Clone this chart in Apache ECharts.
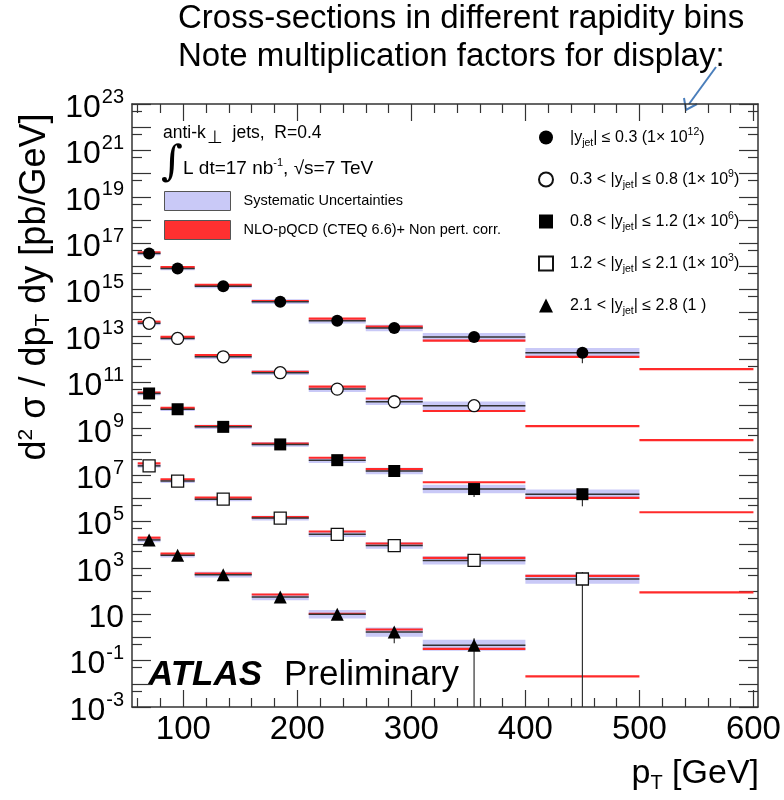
<!DOCTYPE html>
<html>
<head>
<meta charset="utf-8">
<script src="https://cdn.jsdelivr.net/npm/echarts@6/dist/echarts.min.js"></script>
<style>
* { margin: 0; padding: 0; }
body { background: #fff; }
#chart { width: 784px; height: 800px; }
</style>
</head>
<body>
<div id="chart"></div>
<script>
// pT bin edges [GeV]
var binEdges = [60, 80, 110, 160, 210, 260, 310, 400, 500, 600];

// rapidity bins and display factors
var yLow = [null, 0.3, 0.8, 1.2, 2.1];
var yHigh = [0.3, 0.8, 1.2, 2.1, 2.8];
var factorExp = [12, 9, 6, 3, 0];

// measured d2sigma/dpTdy [pb/GeV], before display factor (null = no point)
var meas0 = [3.6e4, 8.1e3, 1.4e3, 3.0e2, 45, 22, 8.9, 1.9, null];
var meas1 = [3.5e4, 7.8e3, 1.26e3, 2.6e2, 51, 14.5, 9.8, null, null];
var meas2 = [3.3e4, 6.9e3, 1.2e3, 2.1e2, 44, 15, 2.5, 1.5, null];
var meas3 = [2.5e4, 5.5e3, 9.1e2, 1.4e2, 28, 9.1, 2.1, 0.33, null];
var meas4 = [1.6e4, 3.5e3, 5.1e2, 56, 10, 1.7, 0.46, null, null];

// NLO-pQCD x non pert. corr.
var nlo0 = [4.0e4, 9.3e3, 1.6e3, 3.2e2, 56, 25, 6.3, 1.26, 0.37];
var nlo1 = [4.1e4, 9.1e3, 1.5e3, 2.8e2, 65, 20, 5.8, 1.3, 0.32];
var nlo2 = [3.6e4, 7.9e3, 1.3e3, 2.3e2, 56, 18, 4.9, 1.05, 0.25];
var nlo3 = [3.2e4, 6.5e3, 1.07e3, 1.55e2, 37, 11.2, 2.7, 0.45, 0.087];
var nlo4 = [2.0e4, 4.1e3, 5.6e2, 71, 10.5, 2.2, 0.32, 0.021, null];

// relative statistical error
var stat0 = [0, 0, 0, 0, 0, 0, 0.1, 0.65];
var stat1 = [0, 0, 0, 0, 0, 0, 0.1, 0];
var stat2 = [0, 0, 0, 0, 0, 0, 0.55, 0.7];
var stat3 = [0, 0, 0, 0, 0, 0, 0.1, 1.0];
var stat4 = [0, 0, 0, 0, 0, 0.67, 1.0];

// systematic band half width (decades)
var sysCentral = [0.08, 0.08, 0.09, 0.1, 0.12, 0.14, 0.18, 0.2];
var sysForward = [0.1, 0.1, 0.12, 0.14, 0.18, 0.2, 0.24];

// axis ticks
var xMajor = [100, 200, 300, 400, 500, 600];
var xMinor = [60, 80, 120, 140, 160, 180, 220, 240, 260, 280, 320, 340, 360, 380,
              420, 440, 460, 480, 520, 540, 560, 580];
var yLabelExp = [-3, -1, 1, 3, 5, 7, 9, 11, 13, 15, 17, 19, 21, 23];

var meas = [meas0, meas1, meas2, meas3, meas4];
var nlo = [nlo0, nlo1, nlo2, nlo3, nlo4];
var stat = [stat0, stat1, stat2, stat3, stat4];
var sys = [sysCentral, sysCentral, sysCentral, sysCentral, sysForward];
var symbols = ['circle', 'circle', 'rect', 'rect', 'triangle'];
var filled = [true, false, true, false, true];
var symSize = [12, 12, 12, 12, 13];

// a hair above 1e23 so the top tick/label survive rounding
var Y_MIN = 1e-3, Y_MAX = 1.001e23;
var FONT = 'Liberation Sans, Arial, sans-serif';

// exact powers of ten (Math.pow(10, 23) is not exactly 1e23)
function p10(e) { return Number('1e' + e); }

var decadeTicks = [], halfTicks = [], yLabelVals = [];
for (var e = -3; e <= 23; e++) {
  decadeTicks.push(p10(e));
  if (e < 23) halfTicks.push(Number('5e' + e));
}
yLabelExp.forEach(function (e) { yLabelVals.push(p10(e)); });

var centers = [];
for (var i = 0; i + 1 < binEdges.length; i++) centers.push((binEdges[i] + binEdges[i + 1]) / 2);

var bandData = [], nloData = [], lineData = [];
var markerSeries = [];
var names = [];
for (var k = 0; k < 5; k++) {
  var f = p10(factorExp[k]);
  var pts = [];
  names.push('ybin' + k);
  for (var b = 0; b < centers.length; b++) {
    var x0 = binEdges[b], x1 = binEdges[b + 1];
    if (nlo[k][b] != null) nloData.push([x0, x1, nlo[k][b] * f]);
    var v = meas[k][b];
    if (v == null) continue;
    var s = sys[k][b];
    bandData.push([x0, x1, v * f * Math.pow(10, -s), v * f * Math.pow(10, s)]);
    var er = stat[k][b] || 0;
    var lo = Math.max(v * (1 - er) * f, Y_MIN);
    lineData.push([x0, x1, v * f, lo, v * (1 + er) * f, centers[b]]);
    pts.push([centers[b], v * f]);
  }
  markerSeries.push({
    name: names[k],
    type: 'scatter',
    symbol: symbols[k],
    symbolSize: symSize[k],
    z: 5,
    itemStyle: filled[k] ? { color: '#000', opacity: 1 } : { color: '#fff', borderColor: '#111', borderWidth: 1.3, opacity: 1 },
    data: pts
  });
}

function legendText(name) {
  var k = names.indexOf(name);
  var t = (yLow[k] != null ? yLow[k].toFixed(1) + ' < ' : '') + '|y{sub|jet}| \u2264 ' + yHigh[k].toFixed(1) + ' (';
  t += factorExp[k] === 0 ? '1 )' : '1\u00d7 10{sup|' + factorExp[k] + '})';
  return t;
}

var SYS_NAME = 'Systematic Uncertainties';
var NLO_NAME = 'NLO-pQCD (CTEQ 6.6)+ Non pert. corr.';

var chart = echarts.init(document.getElementById('chart'));
chart.setOption({
  animation: false,
  backgroundColor: '#fff',
  grid: { left: 132, right: 26, top: 104, bottom: 93, outerBoundsMode: 'none' },
  legend: [{
    orient: 'vertical', left: 538, top: 127, padding: 0, itemWidth: 14, itemHeight: 14, itemGap: 20,
    data: names, formatter: legendText, selectedMode: false,
    textStyle: {
      fontFamily: FONT, fontSize: 16, color: '#000', lineHeight: 21, padding: [0, 0, 0, 12],
      rich: {
        sub: { fontFamily: FONT, fontSize: 10.5, padding: [12, 0, 0, 0] },
        sup: { fontFamily: FONT, fontSize: 10.5, padding: [0, 0, 10, 0] }
      }
    }
  }, {
    orient: 'vertical', left: 164, top: 191, padding: 0, itemWidth: 66, itemHeight: 19, itemGap: 9,
    selectedMode: false,
    data: [
      { name: SYS_NAME, icon: 'rect', itemStyle: { color: '#c9c9f7', borderColor: '#555', borderWidth: 1 } },
      { name: NLO_NAME, icon: 'rect', itemStyle: { color: '#ff3030', borderColor: '#555', borderWidth: 1 } }
    ],
    textStyle: { fontFamily: FONT, fontSize: 14.5, color: '#000', padding: [0, 0, 0, 8] }
  }],
  xAxis: [{
    type: 'value', min: 55, max: 604, position: 'bottom',
    axisLine: { lineStyle: { color: '#333', width: 1.5 } },
    axisTick: { inside: true, length: 17, customValues: xMajor, lineStyle: { color: '#333', width: 1.2 } },
    axisLabel: { customValues: xMajor, fontSize: 33, fontFamily: FONT, color: '#000', margin: 6 },
    splitLine: { show: false }
  }, {
    type: 'value', min: 55, max: 604, position: 'bottom',
    axisLine: { show: false },
    axisTick: { inside: true, length: 9, customValues: xMinor, lineStyle: { color: '#333', width: 1.2 } },
    axisLabel: { show: false }, splitLine: { show: false }
  }, {
    type: 'value', min: 55, max: 604, position: 'top',
    axisLine: { lineStyle: { color: '#333', width: 1.5 } },
    axisTick: { inside: true, length: 17, customValues: xMajor, lineStyle: { color: '#333', width: 1.2 } },
    axisLabel: { show: false }, splitLine: { show: false }
  }, {
    type: 'value', min: 55, max: 604, position: 'top',
    axisLine: { show: false },
    axisTick: { inside: true, length: 9, customValues: xMinor, lineStyle: { color: '#333', width: 1.2 } },
    axisLabel: { show: false }, splitLine: { show: false }
  }],
  yAxis: [{
    type: 'log', min: Y_MIN, max: Y_MAX, position: 'left',
    axisLine: { lineStyle: { color: '#333', width: 1.5 } },
    axisTick: { inside: true, length: 19, customValues: decadeTicks, lineStyle: { color: '#333', width: 1.2 } },
    axisLabel: {
      customValues: yLabelVals, margin: 8, color: '#000', fontFamily: FONT,
      formatter: function (v) {
        var e = Math.round(Math.log10(v));
        return e === 1 ? '{b|10}' : '{b|10}{s|' + e + '}';
      },
      rich: {
        b: { fontSize: 32, fontFamily: FONT, color: '#000', padding: [8, 0, 0, 0] },
        s: { fontSize: 20, fontFamily: FONT, color: '#000', verticalAlign: 'top', padding: [3, 0, 0, 1] }
      }
    },
    splitLine: { show: false }
  }, {
    type: 'log', min: Y_MIN, max: Y_MAX, position: 'left',
    axisLine: { show: false },
    axisTick: { inside: true, length: 10, customValues: halfTicks, lineStyle: { color: '#333', width: 1.2 } },
    axisLabel: { show: false }, splitLine: { show: false }
  }, {
    type: 'log', min: Y_MIN, max: Y_MAX, position: 'right',
    axisLine: { lineStyle: { color: '#333', width: 1.5 } },
    axisTick: { inside: true, length: 19, customValues: decadeTicks, lineStyle: { color: '#333', width: 1.2 } },
    axisLabel: { show: false }, splitLine: { show: false }
  }, {
    type: 'log', min: Y_MIN, max: Y_MAX, position: 'right',
    axisLine: { show: false },
    axisTick: { inside: true, length: 10, customValues: halfTicks, lineStyle: { color: '#333', width: 1.2 } },
    axisLabel: { show: false }, splitLine: { show: false }
  }],
  series: [{
    name: SYS_NAME,
    type: 'custom', z: 1, silent: true,
    itemStyle: { color: '#c9c9f7' },
    encode: { x: [0, 1], y: [2, 3] },
    data: bandData,
    renderItem: function (params, api) {
      var p0 = api.coord([api.value(0), api.value(3)]);
      var p1 = api.coord([api.value(1), api.value(2)]);
      return { type: 'rect', shape: { x: p0[0], y: p0[1], width: p1[0] - p0[0], height: p1[1] - p0[1] },
               style: { fill: '#c9c9f7' } };
    }
  }, {
    name: NLO_NAME,
    type: 'custom', z: 2, silent: true,
    itemStyle: { color: '#ff3030' },
    encode: { x: [0, 1], y: 2 },
    data: nloData,
    renderItem: function (params, api) {
      var p0 = api.coord([api.value(0), api.value(2)]);
      var p1 = api.coord([api.value(1), api.value(2)]);
      return { type: 'line', shape: { x1: p0[0], y1: p0[1], x2: p1[0], y2: p1[1] },
               style: { stroke: '#ff2a2a', lineWidth: 2.2 } };
    }
  }, {
    name: 'data',
    type: 'custom', z: 3, silent: true,
    encode: { x: [0, 1], y: [2, 3, 4] },
    data: lineData,
    renderItem: function (params, api) {
      var p0 = api.coord([api.value(0), api.value(2)]);
      var p1 = api.coord([api.value(1), api.value(2)]);
      var lo = api.coord([api.value(5), api.value(3)]);
      var hi = api.coord([api.value(5), api.value(4)]);
      return { type: 'group', children: [
        { type: 'line', shape: { x1: p0[0], y1: p0[1], x2: p1[0], y2: p1[1] }, style: { stroke: '#333', lineWidth: 1.5 } },
        { type: 'line', shape: { x1: lo[0], y1: lo[1], x2: hi[0], y2: hi[1] }, style: { stroke: '#333', lineWidth: 1.2 } }
      ] };
    }
  }].concat(markerSeries),
  graphic: [
    { type: 'text', x: 178, y: 2, style: { text: 'Cross-sections in different rapidity bins', fontSize: 33,
      fontFamily: 'Liberation Sans Narrow, Arial Narrow, Liberation Sans, sans-serif', fill: '#000' } },
    { type: 'text', x: 178, y: 40, style: { text: 'Note multiplication factors for display:', fontSize: 33,
      fontFamily: 'Liberation Sans Narrow, Arial Narrow, Liberation Sans, sans-serif', fill: '#000' } },
    { type: 'line', shape: { x1: 716, y1: 67, x2: 689, y2: 104 }, style: { stroke: '#4a7ebb', lineWidth: 2 } },
    { type: 'polyline', shape: { points: [[684, 98], [686, 110], [697, 104]] }, style: { stroke: '#4a7ebb', lineWidth: 2, fill: null } },
    { type: 'text', x: 163, y: 133, style: { text: 'anti-k{s|\u22a5}  jets,  R=0.4', fontSize: 17.5, fontFamily: FONT, fill: '#000',
      verticalAlign: 'middle', rich: { s: { fontSize: 18, fontFamily: FONT, padding: [10, 0, 0, 1] } } } },
    { type: 'text', x: 161, y: 164, style: { text: '\u222b', fontSize: 42, fontFamily: 'DejaVu Serif, serif', fill: '#000', verticalAlign: 'middle' } },
    { type: 'text', x: 183, y: 169, style: { text: 'L dt=17 nb{p|-1}, \u221as=7 TeV', fontSize: 19, fontFamily: FONT, fill: '#000',
      verticalAlign: 'middle', rich: { p: { fontSize: 11, fontFamily: FONT, padding: [0, 0, 12, 0] } } } },
    { type: 'text', x: 148, y: 675, style: { text: 'ATLAS', fontSize: 35, fontWeight: 'bold', fontStyle: 'italic', fontFamily: FONT, fill: '#000', verticalAlign: 'middle' } },
    { type: 'text', x: 284, y: 675, style: { text: 'Preliminary', fontSize: 35, fontFamily: FONT, fill: '#000', verticalAlign: 'middle' } },
    { type: 'text', x: 35, y: 287, rotation: Math.PI / 2, style: { text: 'd{p|2} \u03c3 / dp{b|T} dy [pb/GeV]', fontSize: 36, fontFamily: FONT, fill: '#000',
      align: 'center', verticalAlign: 'middle',
      rich: { p: { fontSize: 21, fontFamily: FONT, padding: [0, 0, 17, 0] }, b: { fontSize: 21, fontFamily: FONT, padding: [17, 0, 0, 0] } } } },
    { type: 'text', x: 759, y: 774, style: { text: 'p{b|T} [GeV]', fontSize: 34, fontFamily: FONT, fill: '#000',
      align: 'right', verticalAlign: 'middle', rich: { b: { fontSize: 20, fontFamily: FONT, padding: [18, 0, 0, 0] } } } }
  ]
});
</script>
</body>
</html>
